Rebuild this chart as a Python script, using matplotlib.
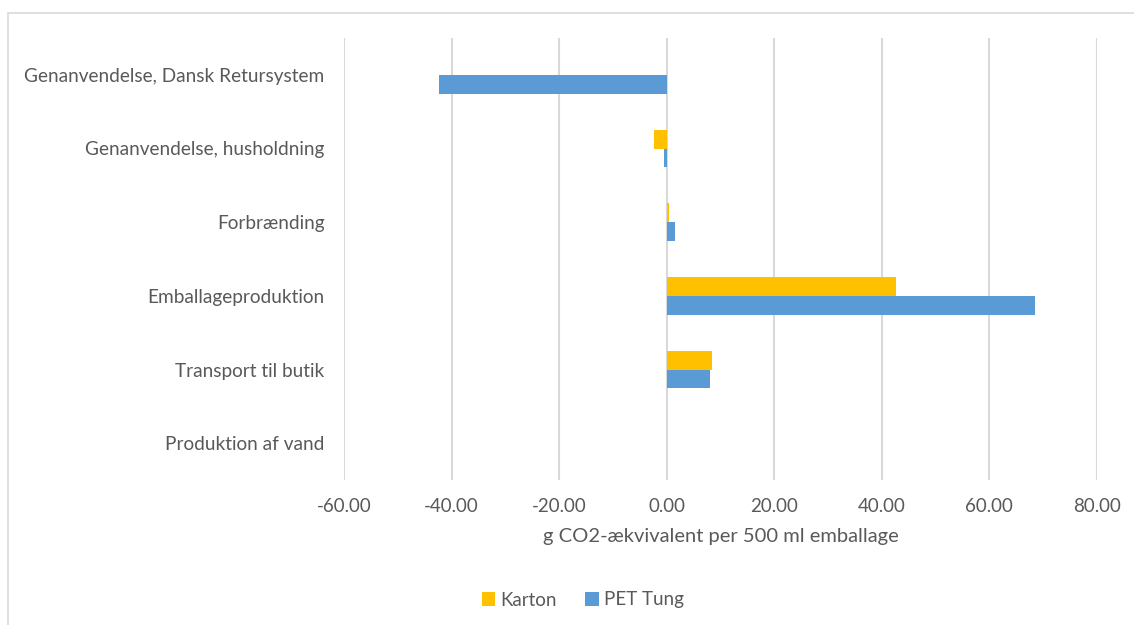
import matplotlib
matplotlib.use("Agg")
import matplotlib.pyplot as plt
from matplotlib.patches import Rectangle
import numpy as np

categories = ["Genanvendelse, Dansk Retursystem", "Genanvendelse, husholdning",
              "Forbrænding", "Emballageproduktion", "Transport til butik",
              "Produktion af vand"]
karton = [0.0, -2.3, 0.4, 42.7, 8.4, 0.0]
pet_tung = [-42.4, -0.45, 1.5, 68.4, 8.1, 0.0]
xticks = [-60, -40, -20, 0, 20, 40, 60, 80]
xlabel = "g CO2-ækvivalent per 500 ml emballage"
series_names = ["Karton", "PET Tung"]

W, H = 1134, 625
fig = plt.figure(figsize=(W / 100, H / 100), dpi=100)
plt.rcParams['font.family'] = ['Lato', 'DejaVu Sans']
txt = '#595959'

# chart border
fig.patches.append(Rectangle((8 / W, -0.1), 1.2, 1 - 13 / H + 0.1,
                             transform=fig.transFigure, fill=False,
                             edgecolor='#D9D9D9', linewidth=1.2))

ax = fig.add_axes([344 / W, 1 - 480 / H, (1097 - 344) / W, (480 - 38) / H])
y = np.arange(len(categories))
h = 0.255
ax.barh(y - h / 2, karton, height=h, color='#FFC000', label=series_names[0], zorder=3)
ax.barh(y + h / 2, pet_tung, height=h, color='#5B9BD5', label=series_names[1], zorder=3)
ax.set_ylim(len(categories) - 0.5, -0.5)
ax.set_xlim(-60, 80)
ax.set_xticks(xticks)
ax.set_xticklabels([f"{v:.2f}" for v in xticks], color=txt, fontsize=13.5)
ax.set_yticks(y)
ax.set_yticklabels(categories, color=txt, fontsize=13.7)
ax.tick_params(axis='both', length=0)
ax.tick_params(axis='x', pad=13)
ax.tick_params(axis='y', pad=14)
ax.grid(axis='x', color='#D9D9D9', linewidth=1.5, zorder=0)
for s in ax.spines.values():
    s.set_visible(False)
ax.set_xlabel(xlabel, color=txt, fontsize=14.5, labelpad=9)

leg = fig.legend(loc='center', bbox_to_anchor=(583 / W, 1 - 600 / H), ncol=2,
                 frameon=False, fontsize=13.5, handlelength=0.7, handleheight=0.7,
                 handletextpad=0.3, columnspacing=1.5)
for t in leg.get_texts():
    t.set_color(txt)

fig.savefig("out.png", dpi=100)
